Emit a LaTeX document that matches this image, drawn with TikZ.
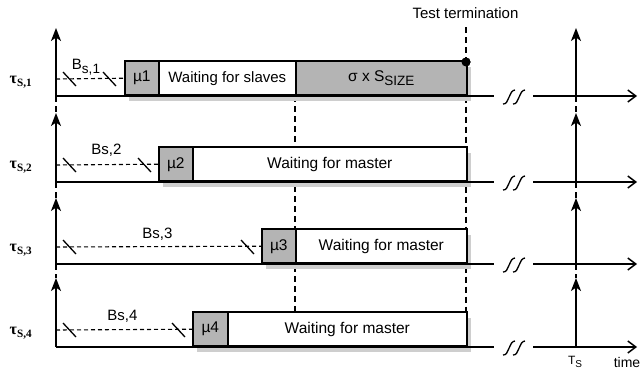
\documentclass[tikz,border=0pt]{standalone}
\usepackage{fontspec}
\setmainfont{Liberation Sans}
\newfontfamily\taufont{Liberation Serif}
\usetikzlibrary{arrows.meta,shadows}
\definecolor{boxgray}{RGB}{180,180,180}
\definecolor{shadegray}{RGB}{206,206,206}
\newcommand{\lowsub}[2]{\raisebox{-#1}{\fontsize{13.5}{15}\selectfont #2}}
\begin{document}
\begin{tikzpicture}[x=1pt,y=-1pt,
  axis/.style={line width=1.5pt},
  uparrow/.style={line width=1.5pt,-{Stealth[length=13pt,width=10pt,inset=3.5pt]}},
  timearrow/.style={line width=1.5pt,-{Straight Barb[length=8pt,width=12pt]}},
  guide/.style={line width=1.4pt,dash pattern=on 6pt off 4pt},
  bline/.style={line width=1.1pt,dash pattern=on 4pt off 3pt},
  tickmark/.style={line width=1.3pt},
  cell/.style={draw,line width=1.6pt,minimum height=34pt,inner sep=0pt,anchor=south west,
    font=\fontsize{15.5}{18}\selectfont,
    drop shadow={shadow xshift=4pt,shadow yshift=-6pt,fill=shadegray,opacity=1}},
  busy/.style={cell,fill=boxgray},
  idle/.style={cell,fill=white},
  blabel/.style={font=\fontsize{15}{18}\selectfont},
  taulabel/.style={font=\taufont\bfseries\fontsize{16}{18}\selectfont},
  brk/.pic={
    \draw[line width=1.3pt,rounded corners=1.2pt] (-11,8) -- (-8,7.5) -- (-2,-5) -- (1,-6);
    \draw[line width=1.3pt,rounded corners=1.2pt] (-1,8) -- (2,7.5) -- (8,-5) -- (11,-6);
  }]
\useasboundingbox (0,0) rectangle (642,375);

% axis origins, arrow tips and B-line starts for the four slaves
\coordinate (o1) at (56,96);  \coordinate (t1) at (56,28);  \coordinate (b1) at (56,79);
\coordinate (o2) at (56,182); \coordinate (t2) at (56,113); \coordinate (b2) at (56,165);
\coordinate (o3) at (56,264); \coordinate (t3) at (56,198); \coordinate (b3) at (56,247);
\coordinate (o4) at (56,347); \coordinate (t4) at (56,278); \coordinate (b4) at (56,330);
% period marks T_S on the right
\coordinate (r1) at (576,96);  \coordinate (rt1) at (576,28);
\coordinate (r2) at (576,182); \coordinate (rt2) at (576,113);
\coordinate (r3) at (576,264); \coordinate (rt3) at (576,198);
\coordinate (r4) at (576,347); \coordinate (rt4) at (576,278);

% test termination marker
\node[font=\fontsize{15}{18}\selectfont] (term) at (465.5,13) {Test termination};
\node[circle,fill=black,inner sep=0pt,minimum size=9pt] (stop) at (466,62) {};
\coordinate (endcol) at (466,313);
\coordinate (synctop) at (295,96);
\coordinate (syncbot) at (295,347);

% guide lines behind the boxes
\draw[guide] (466,27) -- (stop);
\draw[guide] (stop) -- (endcol);
\draw[guide] (synctop) -- (syncbot);
\draw[guide] (o1) -- (t2); \draw[guide] (o2) -- (t3); \draw[guide] (o3) -- (t4);
\draw[guide] (r1) -- (rt2); \draw[guide] (r2) -- (rt3); \draw[guide] (r3) -- (rt4);

% slave 1
\node[busy,minimum width=34pt] (mu1) at (124,96) {µ1};
\node[idle,minimum width=137pt,font=\fontsize{15}{18}\selectfont] (w1) at (158,96) {Waiting for slaves};
\node[busy,minimum width=171pt] (s1) at (295,96) {σ x S\lowsub{4pt}{SIZE}};
% slave 2
\node[busy,minimum width=34pt] (mu2) at (158,182) {µ2};
\node[idle,minimum width=274pt] (w2) at (192,182) {Waiting for master};
% slave 3
\node[busy,minimum width=34pt] (mu3) at (261,264) {µ3};
\node[idle,minimum width=171pt] (w3) at (295,264) {Waiting for master};
% slave 4
\node[busy,minimum width=35pt] (mu4) at (192,347) {µ4};
\node[idle,minimum width=239pt] (w4) at (227,347) {Waiting for master};

\node at (stop) [circle,fill=black,inner sep=0pt,minimum size=9pt] {};

% backoff lines, each cut by two break marks
\draw[bline] (b1) -- (mu1.west);
\draw[bline] (b2) -- (mu2.west);
\draw[bline] (b3) -- (mu3.west);
\draw[bline] (b4) -- (mu4.west);
\draw[tickmark] (63,72) -- (76,86);   \draw[tickmark] (103,72) -- (116,86);
\draw[tickmark] (63,158) -- (76,172); \draw[tickmark] (138,158) -- (151,172);
\draw[tickmark] (63,240) -- (76,254); \draw[tickmark] (241,240) -- (254,254);
\draw[tickmark] (63,323) -- (76,337); \draw[tickmark] (172,323) -- (185,337);
\node[blabel] (bl1) at (86,67) {B\lowsub{4pt}{s,1}};
\node[blabel] (bl2) at (106.5,150) {Bs,2};
\node[blabel] (bl3) at (157.5,234) {Bs,3};
\node[blabel] (bl4) at (122.5,316) {Bs,4};

% time axes with breaks
\foreach \i/\y in {1/96,2/182,3/264,4/347}{
  \coordinate (brkL\i) at (494,\y);
  \coordinate (brkR\i) at (533,\y);
  \coordinate (end\i) at (637,\y);
}
\draw[axis] (o1) -- (brkL1); \draw[timearrow] (brkR1) -- (end1);
\draw[axis] (o2) -- (brkL2); \draw[timearrow] (brkR2) -- (end2);
\draw[axis] (o3) -- (brkL3); \draw[timearrow] (brkR3) -- (end3);
\draw[axis] (o4) -- (brkL4); \draw[timearrow] (brkR4) -- (end4);
\pic at (514,96) {brk};
\pic at (514,182) {brk};
\pic at (514,264) {brk};
\pic at (514,347) {brk};

% vertical axes
\draw[uparrow] (o1) -- (t1); \draw[uparrow] (o2) -- (t2);
\draw[uparrow] (o3) -- (t3); \draw[uparrow] (o4) -- (t4);
\draw[uparrow] (r1) -- (rt1); \draw[uparrow] (r2) -- (rt2);
\draw[uparrow] (r3) -- (rt3); \draw[uparrow] (r4) -- (rt4);

% row labels
\node[taulabel] (L1) at (21,82) {τ\textsubscript{S,1}};
\node[taulabel] (L2) at (21,167) {τ\textsubscript{S,2}};
\node[taulabel] (L3) at (21,250) {τ\textsubscript{S,3}};
\node[taulabel] (L4) at (21,333) {τ\textsubscript{S,4}};

\node[font=\fontsize{12}{13}\selectfont] (ts) at (575,362) {T\raisebox{-2.5pt}{\fontsize{10}{11}\selectfont S}};
\node[font=\fontsize{14}{16}\selectfont] (tm) at (627,362) {time};
\end{tikzpicture}
\end{document}
